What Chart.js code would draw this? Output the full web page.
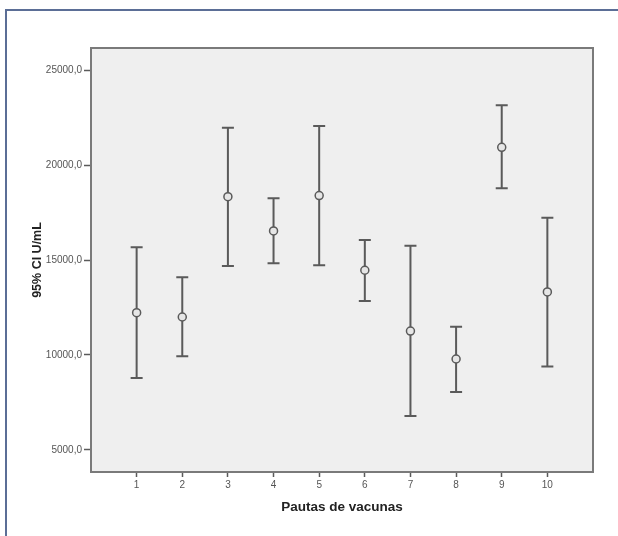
<!DOCTYPE html>
<html>
<head>
<meta charset="utf-8">
<script src="https://cdn.jsdelivr.net/npm/chart.js@4/dist/chart.umd.min.js"></script>
<style>
  html, body { margin: 0; padding: 0; background: #ffffff; }
  #wrap { position: relative; width: 618px; height: 536px; }
</style>
</head>
<body>
<div id="wrap"><canvas id="chart" width="618" height="536"></canvas></div>
<script>
// Pautas de vacunas 1..10, mean and 95% CI (U/mL)
const pautas = [1, 2, 3, 4, 5, 6, 7, 8, 9, 10];
const medias = [12230, 12000, 18330, 16530, 18390, 14460, 11260, 9790, 20930, 13320];
const ciInf  = [8790, 9930, 14680, 14830, 14720, 12840, 6790, 8050, 18770, 9400];
const ciSup  = [15670, 14090, 21960, 18250, 22050, 16050, 15750, 11490, 23140, 17230];
const yTicks = [5000, 10000, 15000, 20000, 25000];

const grey = '#5a5a5a';

// outer frame + plot background
const framePlugin = {
  id: 'frame',
  beforeDraw(chart) {
    const ctx = chart.ctx;
    const a = chart.chartArea;
    ctx.save();
    ctx.strokeStyle = '#5b6e96';
    ctx.lineWidth = 2;
    ctx.beginPath();
    ctx.moveTo(6, 536);
    ctx.lineTo(6, 10);
    ctx.lineTo(618, 10);
    ctx.stroke();
    ctx.fillStyle = '#efefef';
    ctx.fillRect(a.left, a.top, a.right - a.left, a.bottom - a.top);
    ctx.restore();
  },
  afterDraw(chart) {
    const ctx = chart.ctx;
    const a = chart.chartArea;
    ctx.save();
    ctx.strokeStyle = '#7a7a7a';
    ctx.lineWidth = 2;
    ctx.strokeRect(a.left, a.top, a.right - a.left, a.bottom - a.top);
    ctx.restore();
  }
};

// error bars from the ci arrays, placed with the chart scales
const errorBars = {
  id: 'errorBars',
  beforeDatasetsDraw(chart) {
    const ctx = chart.ctx;
    const xs = chart.scales.x, ys = chart.scales.y;
    ctx.save();
    ctx.strokeStyle = grey;
    ctx.lineWidth = 2;
    for (let i = 0; i < pautas.length; i++) {
      const x = xs.getPixelForValue(pautas[i]);
      const y1 = ys.getPixelForValue(ciSup[i]);
      const y2 = ys.getPixelForValue(ciInf[i]);
      ctx.beginPath();
      ctx.moveTo(x, y1); ctx.lineTo(x, y2);
      ctx.moveTo(x - 6, y1); ctx.lineTo(x + 6, y1);
      ctx.moveTo(x - 6, y2); ctx.lineTo(x + 6, y2);
      ctx.stroke();
    }
    ctx.restore();
  }
};

new Chart(document.getElementById('chart'), {
  type: 'scatter',
  data: {
    datasets: [{
      label: 'Media',
      data: pautas.map((p, i) => ({ x: p, y: medias[i] })),
      pointRadius: 4,
      pointBorderWidth: 1.5,
      pointBorderColor: grey,
      pointBackgroundColor: '#e6e6e6'
    }]
  },
  options: {
    responsive: false,
    animation: false,
    layout: { padding: { left: 0, top: 48, right: 25, bottom: 0 } },
    plugins: { legend: { display: false }, tooltip: { enabled: false } },
    scales: {
      x: {
        type: 'linear',
        min: 0,
        max: 11,
        afterBuildTicks: s => { s.ticks = pautas.map(v => ({ value: v })); },
        afterFit: s => { s.height = 64; },
        border: { display: false },
        grid: { drawOnChartArea: false, tickLength: 5, tickWidth: 1.5, tickColor: grey },
        ticks: { color: '#555', font: { family: 'Arial, "Liberation Sans"', size: 10 }, padding: 2, maxRotation: 0 },
        title: {
          display: true,
          text: 'Pautas de vacunas',
          color: '#222',
          font: { family: 'Arial, "Liberation Sans"', size: 13.5, weight: 'bold' },
          padding: { top: 21, bottom: 21 }
        }
      },
      y: {
        type: 'linear',
        min: 3842,
        max: 26158,
        afterBuildTicks: s => { s.ticks = yTicks.map(v => ({ value: v })); },
        afterFit: s => { s.width = 91; },
        border: { display: false },
        grid: { drawOnChartArea: false, tickLength: 7, tickWidth: 1.5, tickColor: grey },
        ticks: {
          color: '#555',
          font: { family: 'Arial, "Liberation Sans"', size: 10 },
          padding: 2,
          callback: v => v.toFixed(1).replace('.', ',')
        },
        title: {
          display: true,
          text: '95% CI U/mL',
          color: '#222',
          font: { family: 'Arial, "Liberation Sans"', size: 12.5, weight: 'bold' },
          padding: { top: 30, bottom: 30 }
        }
      }
    }
  },
  plugins: [framePlugin, errorBars]
});
</script>
</body>
</html>
